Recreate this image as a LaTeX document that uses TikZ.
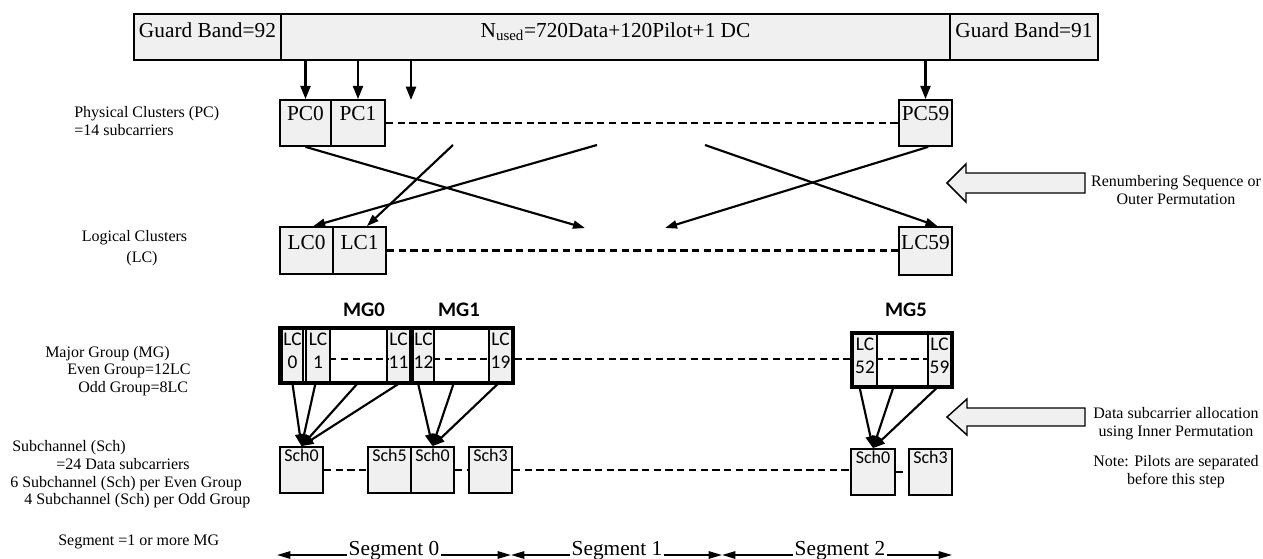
\documentclass[tikz,border=0pt]{standalone}
\usepackage{fontspec}
\setmainfont{Liberation Serif}
\newfontfamily\calibrifont{Carlito}
\usetikzlibrary{arrows.meta,fit,calc}
\definecolor{boxgray}{HTML}{F0F0F0}
\newcommand\fsA{\fontsize{16}{19}\selectfont}
\newcommand\fsB{\fontsize{12}{13.5}\selectfont}
\newcommand\fsC{\calibrifont\fontsize{13.5}{17}\selectfont}
\newcommand\fsE{\calibrifont\fontsize{14.5}{17}\selectfont}
\newcommand\fsD{\calibrifont\bfseries\fontsize{15.5}{18}\selectfont}
\begin{document}
\begin{tikzpicture}[x=0.75pt,y=-0.75pt,
  box/.style={draw, fill=boxgray, line width=1.3pt, inner sep=0pt},
  wbox/.style={draw, fill=white, line width=1.3pt, inner sep=0pt},
  mgbox/.style={draw, line width=2.6pt, inner sep=0pt},
  toplbl/.style={anchor=north, inner sep=0pt, yshift=-#1*0.75pt},
  toparr/.style={-{Triangle[length=10pt,width=7.5pt]}, line width=1.8pt},
  crossarr/.style={-{Triangle[length=9pt,width=6pt]}, line width=1.6pt},
  convarr/.style={-{Triangle[length=9pt,width=7pt]}, line width=1.6pt},
  segarr/.style={-{Triangle[length=10pt,width=5.5pt]}, line width=1.3pt},
  dashln/.style={line width=2.2pt, dash pattern=on 5.5pt off 3.3pt},
  blockarr/.style={draw, fill=boxgray, line width=1.1pt, line join=miter},
  side/.style={font=\fsB, inner sep=0pt},
]
\useasboundingbox (0,0) rectangle (1263,559);

% ---------- top bar ----------
\node[box, line width=1.5pt, fit={(134,14) (281,60)},
  label={[toplbl=9,font=\fsA]north:{Guard Band=92}}] (gb1) {};
\node[box, line width=1.5pt, fit={(281,14) (950,60)},
  label={[toplbl=9,font=\fsA]north:{N\textsubscript{used}=720Data+120Pilot+1 DC}}] (nused) {};
\node[box, line width=1.5pt, fit={(950,14) (1098,60)},
  label={[toplbl=9,font=\fsA]north:{Guard Band=91}}] (gb2) {};

% ---------- physical clusters ----------
\node[box, fit={(280,100) (331,146)}, label={[toplbl=7,font=\fsA]north:{PC0}}] (pc0) {};
\node[box, fit={(331,100) (385,146)}, label={[toplbl=7,font=\fsA]north:{PC1}}] (pc1) {};
\node[box, fit={(899,100) (952,146)}, label={[toplbl=7,font=\fsA]north:{PC59}}] (pc59) {};
\coordinate (pcx) at (411,100);

\draw[toparr] (pc0.north |- nused.south) -- (pc0.north);
\draw[toparr] (pc1.north |- nused.south) -- (pc1.north);
\draw[toparr] (pcx |- nused.south) -- (pcx);
\draw[toparr] (pc59.north |- nused.south) -- (pc59.north);
\draw[dashln] (pc1.east) -- (pc59.west);

% ---------- logical clusters ----------
\node[box, fit={(280,227) (333,274)}, label={[toplbl=9,font=\fsA]north:{LC0}}] (lc0) {};
\node[box, fit={(333,227) (386,274)}, label={[toplbl=9,font=\fsA]north:{LC1}}] (lc1) {};
\node[box, fit={(899,227) (952,275)}, label={[toplbl=9,font=\fsA]north:{LC59}}] (lc59) {};
\draw[dashln] (lc1.east) -- (lc1.east -| lc59.west);

% ---------- renumbering (crossing) ----------
\coordinate (x1) at (585,228);
\coordinate (x2) at (665,228);
\coordinate (s1) at (453,145);
\coordinate (s2) at (597,145);
\coordinate (s3) at (705,145);
\draw[crossarr] (pc0.south) -- (x1);
\draw[crossarr] (s1) -- ([xshift=5.5pt]lc1.north);
\draw[crossarr] (s2) -- ([xshift=5pt]lc0.north);
\draw[crossarr] (s3) -- ([xshift=9pt]lc59.north);
\draw[crossarr] ([xshift=2pt]pc59.south) -- (x2);

% ---------- major groups ----------
\node[font=\fsD] (mg0l) at (364,310) {MG0};
\node[font=\fsD] (mg1l) at (459,310) {MG1};
\node[font=\fsD] (mg5l) at (906,310) {MG5};

\node[box, fit={(282,328) (303,383)}, label={[toplbl=6,font=\fsE,align=center]north:{LC\\0}}] (lc0c) {};
\node[box, fit={(306,328) (330,383)}, label={[toplbl=6,font=\fsE,align=center]north:{LC\\1}}] (lc1c) {};
\node[wbox, fit={(330,328) (387,383)}] (blank0) {};
\node[box, fit={(387,328) (410,383)}, label={[toplbl=6,font=\fsE,align=center]north:{LC\\11}}] (lc11c) {};
\node[box, fit={(413,328) (434,383)}, label={[toplbl=6,font=\fsE,align=center]north:{LC\\12}}] (lc12c) {};
\node[wbox, fit={(434,328) (489,383)}] (blank1) {};
\node[box, fit={(489,328) (512,383)}, label={[toplbl=6,font=\fsE,align=center]north:{LC\\19}}] (lc19c) {};
\node[box, fit={(853,333) (877,387)}, label={[toplbl=6,font=\fsE,align=center]north:{LC\\52}}] (lc52c) {};
\node[wbox, fit={(877,333) (928,387)}] (blank5) {};
\node[box, fit={(928,333) (951,387)}, label={[toplbl=6,font=\fsE,align=center]north:{LC\\59}}] (lc59c) {};

\node[mgbox, fit={(280,328) (412,383)}] (mg0) {};
\node[mgbox, fit={(412,328) (513,383)}] (mg1) {};
\node[mgbox, fit={(852,333) (952,387)}] (mg5) {};

\coordinate (mgy) at (0,359);
\draw[dashln] (blank0.west |- mgy) -- (blank0.east |- mgy);
\draw[dashln] (blank1.west |- mgy) -- (blank1.east |- mgy);
\draw[dashln] (mg1.east |- mgy) -- (mg5.west |- mgy);
\draw[dashln] (blank5.west |- mgy) -- (blank5.east |- mgy);

% ---------- subchannels ----------
\node[box, fit={(280,447) (323,493)}, label={[toplbl=3,font=\fsC]north:{Sch0}}] (sch0a) {};
\node[box, fit={(368,447) (411,493)}, label={[toplbl=3,font=\fsC]north:{Sch5}}] (sch5) {};
\node[box, fit={(411,447) (454,493)}, label={[toplbl=3,font=\fsC]north:{Sch0}}] (sch0b) {};
\node[box, fit={(469,447) (512,493)}, label={[toplbl=3,font=\fsC]north:{Sch3}}] (sch3) {};
\node[box, fit={(851,449) (895,495)}, label={[toplbl=3,font=\fsC]north:{Sch0}}] (sch0c) {};
\node[box, fit={(909,449) (952,495)}, label={[toplbl=3,font=\fsC]north:{Sch3}}] (sch3c) {};

\draw[dashln] (sch0a.east) -- (sch5.west);
\draw[dashln] (sch0b.east) -- (sch3.west);
\draw[dashln] (sch3.east) -- (sch3.east -| sch0c.west);
\draw[dashln] (sch0c.east) -- (sch3c.west);

\draw[convarr] (lc0c.south) -- (sch0a.north);
\draw[convarr] ([xshift=-2pt]lc1c.south) -- (sch0a.north);
\draw[convarr] ([xshift=-1pt]blank0.south) -- (sch0a.north);
\draw[convarr] (lc11c.south) -- (sch0a.north);
\draw[convarr] ([xshift=-4pt]lc12c.south) -- (sch0b.north);
\draw[convarr] ([xshift=-6pt]blank1.south) -- (sch0b.north);
\draw[convarr] ([xshift=-2pt]lc19c.south) -- (sch0b.north);
\draw[convarr] ([xshift=-4pt]lc52c.south) -- (sch0c.north);
\draw[convarr] ([xshift=-7pt]blank5.south) -- (sch0c.north);
\draw[convarr] ([xshift=-2pt]lc59c.south) -- (sch0c.north);

% ---------- block arrows and right texts ----------
\draw[blockarr] (947,183) -- (966,164) -- (966,173) -- (1085,173) -- (1085,193)
  -- (966,193) -- (966,202) -- cycle;
\draw[blockarr] (947,417) -- (967,399) -- (967,408) -- (1085,408) -- (1085,426)
  -- (967,426) -- (967,435) -- cycle;
\node[side, align=center] (renum) at (1176,190.5) {Renumbering Sequence or\\Outer Permutation};
\node[side, align=center] (inner) at (1176,423.5) {Data subcarrier allocation\\using Inner Permutation};
\node[side, align=center] (note) at (1176,471.5) {Note: Pilots are separated\\before this step};

% ---------- left texts ----------
\node[side, align=left, anchor=west] (pctxt) at (74,121) {Physical Clusters (PC)\\=14 subcarriers};
\node[side, anchor=mid] (lct1) at (134.5,238) {Logical Clusters};
\node[side, anchor=mid] (lct2) at (142,259) {(LC)};
\node[side, anchor=mid west] (mgt1) at (45,354) {Major Group (MG)};
\node[side, anchor=mid west] (mgt2) at (67,371) {Even Group=12LC};
\node[side, anchor=mid west] (mgt3) at (78,389) {Odd Group=8LC};
\node[side, anchor=mid west] (sct1) at (12,448) {Subchannel (Sch)};
\node[side, anchor=mid west] (sct2) at (56,466) {=24 Data subcarriers};
\node[side, anchor=mid west] (sct3) at (10,484) {6 Subchannel (Sch) per Even Group};
\node[side, anchor=mid west] (sct4) at (24,501) {4 Subchannel (Sch) per Odd Group};
\node[side, anchor=mid west] (segt) at (58,542) {Segment =1 or more MG};

% ---------- segments ----------
\node[font=\fsA, inner sep=1pt, anchor=base] (seg0) at (394,555) {Segment 0};
\node[font=\fsA, inner sep=1pt, anchor=base] (seg1) at (617,555) {Segment 1};
\node[font=\fsA, inner sep=1pt, anchor=base] (seg2) at (840,555) {Segment 2};
\coordinate (b0) at (277,555);
\coordinate (b1) at (511,555);
\coordinate (b2) at (722,555);
\coordinate (b3) at (952,555);
\draw[segarr] (seg0.base west) -- (b0);
\draw[segarr] (seg0.base east) -- (b1);
\draw[segarr] (seg1.base west) -- (b1);
\draw[segarr] (seg1.base east) -- (b2);
\draw[segarr] (seg2.base west) -- (b2);
\draw[segarr] (seg2.base east) -- (b3);
\end{tikzpicture}
\end{document}
